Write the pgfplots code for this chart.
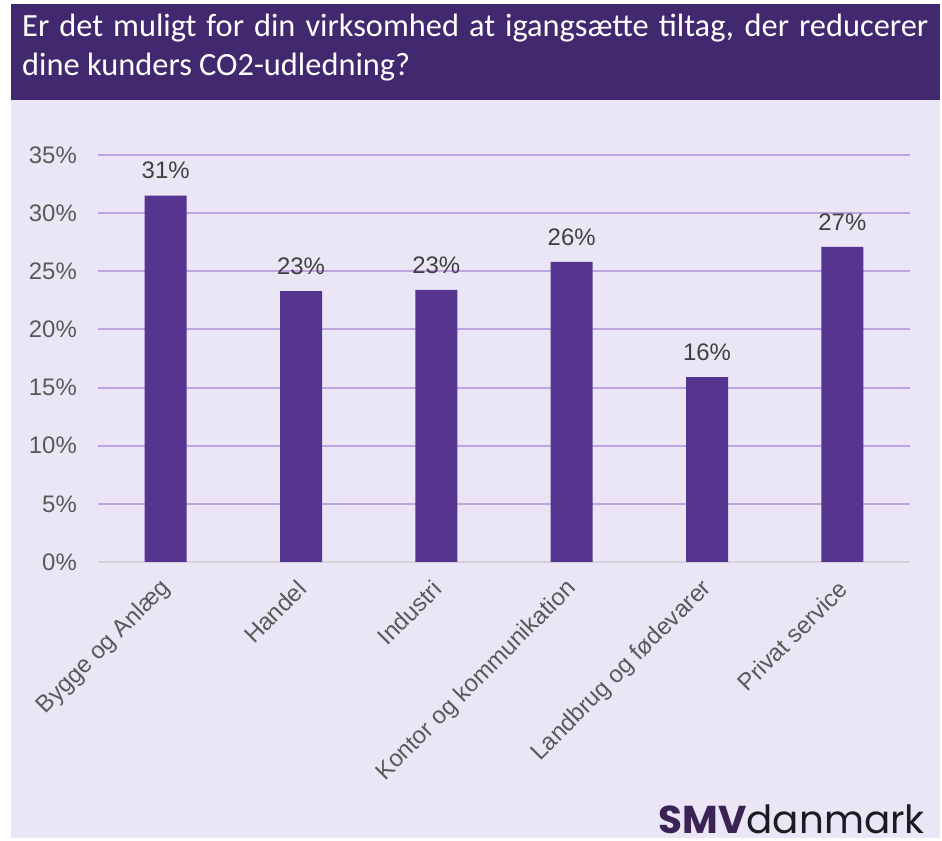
\documentclass[border=0pt]{standalone}
\usepackage{pgfplots}
\pgfplotsset{compat=1.18}
\usepackage{pgfplotstable}
\usepackage{fontspec}
\setmainfont{Liberation Sans}
\newfontfamily\titlefont{Carlito}
\newfontfamily\logofont{Poppins}
\definecolor{banner}{HTML}{42286E}
\definecolor{bgl}{HTML}{EAE6F6}
\definecolor{barc}{HTML}{55358F}
\definecolor{gridc}{HTML}{BCA5E2}
\definecolor{zeroc}{HTML}{D5D3DA}
\definecolor{tickc}{HTML}{595959}
\definecolor{labc}{HTML}{404040}
\definecolor{logop}{HTML}{3B2455}
\definecolor{logod}{HTML}{1E1A24}

\pgfplotstableread{
x y lab
0 31.5 31
1 23.3 23
2 23.4 23
3 25.8 26
4 15.9 16
5 27.1 27
}\datatable

\begin{document}
\begin{tikzpicture}[x=1bp,y=1bp]
\useasboundingbox (0,0) rectangle (942,841);
\fill[white] (0,0) rectangle (942,841);
\fill[bgl] (11,3) rectangle (940,741);
\fill[banner] (11,741) rectangle (940,837);
\node[anchor=base west, inner sep=0pt, text=white] at (22,804)
  {\parbox[t]{906bp}{\titlefont\fontsize{32.5}{38.5}\selectfont Er det muligt for din virksomhed at igangsætte tiltag, der reducerer\linebreak dine kunders CO2-udledning?}};
\begin{axis}[
  at={(98bp,279bp)}, anchor=south west,
  scale only axis, width=812bp, height=407bp,
  xmin=-0.5, xmax=5.5, ymin=0, ymax=35,
  ybar, bar width=42bp,
  axis line style={draw=none},
  major tick length=0pt,
  ytick={5,10,...,35},
  extra y ticks={0},
  extra y tick style={grid style={color=zeroc, line width=2bp}},
  ymajorgrids,
  grid style={color=gridc, line width=2bp},
  /pgf/number format/assume math mode=true,
  yticklabel={\pgfmathprintnumber{\tick}\%},
  yticklabel style={font=\fontsize{24}{24}\selectfont, text=tickc, inner sep=0pt, xshift=-21bp},
  xtick={0,1,2,3,4,5},
  xticklabels={Bygge og Anlæg, Handel, Industri, Kontor og kommunikation, Landbrug og fødevarer, Privat service},
  xticklabel style={font=\fontsize{24}{24}\selectfont, text=tickc, inner sep=0pt, xshift=1bp, yshift=-23bp, rotate=45, anchor=east},
  nodes near coords={\pgfmathprintnumber{\pgfplotspointmeta}\%},
  point meta=explicit,
  nodes near coords style={font=\fontsize{24}{24}\selectfont, text=labc, anchor=south, yshift=13bp},
]
\addplot[fill=barc, draw=none] table[x=x, y=y, meta=lab] {\datatable};
\end{axis}
\node[anchor=base east, inner sep=0pt] at (925,7)
  {\raisebox{0pt}[\height][0pt]{\logofont\fontsize{39}{39}\selectfont\textcolor{logop}{\bfseries SMV}\textcolor{logod}{danmark}}};
\end{tikzpicture}
\end{document}
